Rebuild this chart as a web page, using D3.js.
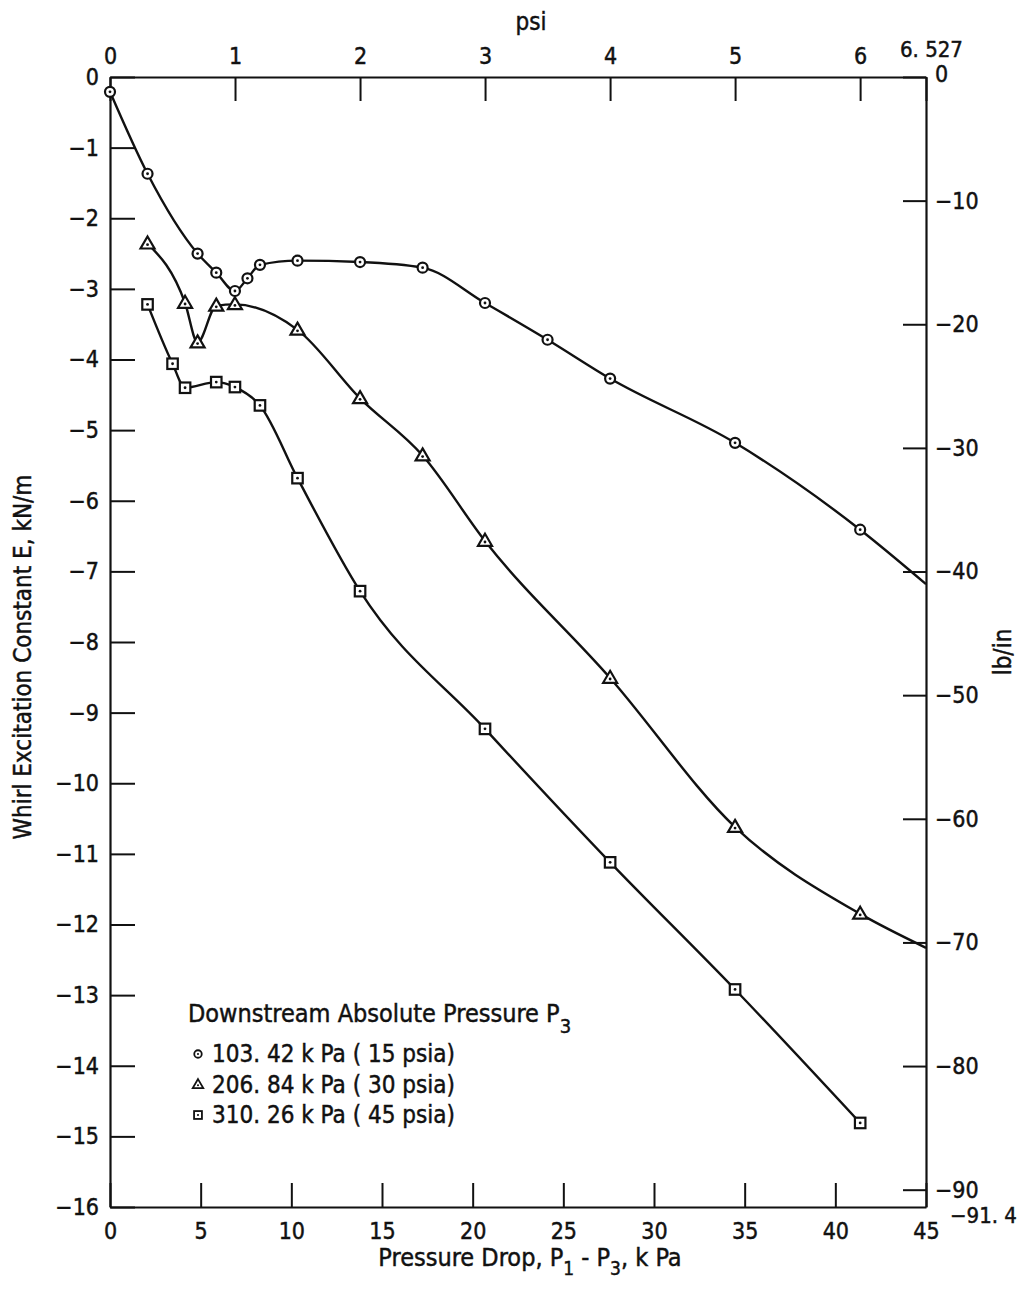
<!DOCTYPE html>
<html>
<head>
<meta charset="utf-8">
<script src="https://cdn.jsdelivr.net/npm/d3@7"></script>
<style>
  html, body { margin: 0; padding: 0; background: #fff; }
  svg { display: block; }
  text { font-family: "DejaVu Sans Condensed", "Liberation Sans Narrow", "DejaVu Sans", sans-serif; fill: #111; stroke: #111; stroke-width: 0.45px; }
</style>
</head>
<body>
<svg id="chart" width="1021" height="1291"></svg>
<script>
// Pressure drop P1 - P3 (kPa) and whirl excitation constant E (kN/m)
// Downstream absolute pressure 103.42 kPa (15 psia)
const drop15 = [0, 2.07, 4.83, 5.86, 6.89, 7.58, 8.27, 10.34, 13.79, 17.24, 20.68, 24.13, 27.58, 34.47, 41.37];
const e15    = [-0.21, -1.37, -2.50, -2.77, -3.03, -2.85, -2.66, -2.60, -2.62, -2.70, -3.20, -3.72, -4.27, -5.18, -6.41];
const tail15 = [45, -7.18];   // faired curve carried to the frame edge

// Downstream absolute pressure 206.84 kPa (30 psia)
const drop30 = [2.07, 4.14, 4.83, 5.86, 6.89, 10.34, 13.79, 17.24, 20.68, 27.58, 34.47, 41.37];
const e30    = [-2.36, -3.20, -3.76, -3.24, -3.22, -3.58, -4.55, -5.36, -6.57, -8.51, -10.62, -11.85];
const tail30 = [45, -12.33];

// Downstream absolute pressure 310.26 kPa (45 psia)
const drop45 = [2.07, 3.45, 4.14, 5.86, 6.89, 8.27, 10.34, 13.79, 20.68, 27.58, 34.47, 41.37];
const e45    = [-3.22, -4.06, -4.40, -4.32, -4.39, -4.65, -5.68, -7.28, -9.23, -11.12, -12.92, -14.81];

// Axis ticks and labels
const kPaTicks = [0, 5, 10, 15, 20, 25, 30, 35, 40, 45];
const psiTicks = [0, 1, 2, 3, 4, 5, 6, 6.527];
const psiTickLabels = ["0", "1", "2", "3", "4", "5", "6", "6. 527"];
const eTicks = [0, -1, -2, -3, -4, -5, -6, -7, -8, -9, -10, -11, -12, -13, -14, -15, -16];
const lbTicks = [0, -10, -20, -30, -40, -50, -60, -70, -80, -90];
const lbBottomLabel = "\u221291. 4";

const legendTitle = "Downstream Absolute Pressure P";
const legendLabels = ["103. 42 k Pa ( 15 psia)", "206. 84 k Pa ( 30 psia)", "310. 26 k Pa ( 45 psia)"];
const markerKinds = ["circle", "triangle", "square"];

const minus = v => (v < 0 ? "\u2212" + Math.abs(v) : String(v));

const svg = d3.select("#chart");
const L = 110, R = 926, T = 77, B = 1207;

const x = d3.scaleLinear().domain([0, 45]).range([L, R]);
const xPsi = d3.scaleLinear().domain([0, 6.527]).range([L, R]);
const y = d3.scaleLinear().domain([0, -16]).range([T, B]);
const yLb = d3.scaleLinear().domain([0, -91.4]).range([T, B]);

const FONT = '"DejaVu Sans Condensed", "Liberation Sans Narrow", "DejaVu Sans", sans-serif';

function styleAxis(g, size) {
  g.select(".domain").attr("stroke", "#111").attr("stroke-width", 2.2);
  g.selectAll(".tick line").attr("stroke", "#111").attr("stroke-width", 2);
  g.selectAll(".tick text").attr("font-size", size).attr("fill", "#111")
    .style("font-family", FONT);
}

// Left axis (kN/m), ticks pointing into the plot
const gLeft = svg.append("g").attr("transform", `translate(${L},0)`)
  .call(d3.axisLeft(y).tickValues(eTicks).tickSizeInner(-25).tickSizeOuter(0).tickPadding(11).tickFormat(minus));
styleAxis(gLeft, 23);

// Bottom axis (kPa)
const gBottom = svg.append("g").attr("transform", `translate(0,${B})`)
  .call(d3.axisBottom(x).tickValues(kPaTicks).tickSizeInner(-24).tickSizeOuter(0).tickPadding(16).tickFormat(d => String(d)));
styleAxis(gBottom, 23);

// Top axis (psi)
const gTop = svg.append("g").attr("transform", `translate(0,${T})`)
  .call(d3.axisTop(xPsi).tickValues(psiTicks).tickSizeInner(-24).tickSizeOuter(0).tickPadding(13)
    .tickFormat((d, i) => psiTickLabels[i]));
styleAxis(gTop, 23);
gTop.selectAll(".tick").filter(d => d === 6.527).select("text").attr("dx", 5).attr("dy", -7).attr("font-size", 22);

// Right axis (lb/in)
const gRight = svg.append("g").attr("transform", `translate(${R},0)`)
  .call(d3.axisRight(yLb).tickValues(lbTicks).tickSizeInner(-23).tickSizeOuter(0).tickPadding(9).tickFormat(minus));
styleAxis(gRight, 23);
gRight.selectAll(".tick").filter(d => d === 0).select("text").attr("dy", "0.2em");

svg.append("text").attr("x", R + 24).attr("y", yLb(-91.4) + 16)
  .attr("font-size", 22).text(lbBottomLabel);

// Axis titles
svg.append("text").attr("x", 531).attr("y", 30).attr("text-anchor", "middle")
  .attr("font-size", 24).text("psi");

const xt = svg.append("text").attr("x", 530).attr("y", 1266).attr("text-anchor", "middle").attr("font-size", 25);
xt.append("tspan").text("Pressure Drop,  P");
xt.append("tspan").attr("dy", 9).attr("font-size", 19).text("1");
xt.append("tspan").attr("dy", -9).text(" - P");
xt.append("tspan").attr("dy", 9).attr("font-size", 19).text("3");
xt.append("tspan").attr("dy", -9).text(",  k Pa");

svg.append("text").attr("transform", "translate(31,657) rotate(-90)").attr("text-anchor", "middle")
  .attr("font-size", 24).text("Whirl Excitation Constant E,  kN/m");

svg.append("text").attr("transform", "translate(1011,652) rotate(-90)").attr("text-anchor", "middle")
  .attr("font-size", 24).text("lb/in");

// Faired curves
const line = d3.line().x(d => x(d[0])).y(d => y(d[1])).curve(d3.curveMonotoneX);
const pts15 = drop15.map((d, i) => [d, e15[i]]);
const pts30 = drop30.map((d, i) => [d, e30[i]]);
const pts45 = drop45.map((d, i) => [d, e45[i]]);

const curves = [pts15.concat([tail15]), pts30.concat([tail30]), pts45];
svg.append("g").selectAll("path").data(curves).join("path")
  .attr("d", line).attr("fill", "none").attr("stroke", "#111").attr("stroke-width", 2.4);

// Data symbols
function drawMarker(g, kind, cx, cy, s) {
  if (kind === "circle") {
    g.append("circle").attr("cx", cx).attr("cy", cy).attr("r", 5 * s);
  } else if (kind === "triangle") {
    const h = 12 * s, w = 14 * s;
    g.append("path").attr("d", `M${cx},${cy - h * 0.6} L${cx + w / 2},${cy + h * 0.4} L${cx - w / 2},${cy + h * 0.4} Z`);
  } else {
    const a = 10.5 * s;
    g.append("rect").attr("x", cx - a / 2).attr("y", cy - a / 2).attr("width", a).attr("height", a);
  }
  g.append("circle").attr("class", "dot").attr("cx", cx).attr("cy", cy + (kind === "triangle" ? 1 * s : 0)).attr("r", 1.4 * s);
}

const markerLayer = svg.append("g").attr("fill", "#fff").attr("stroke", "#111").attr("stroke-width", 2.2);
[pts15, pts30, pts45].forEach((pts, k) => {
  pts.forEach(p => drawMarker(markerLayer, markerKinds[k], x(p[0]), y(p[1]), 1));
});
markerLayer.selectAll("circle.dot").attr("fill", "#111").attr("stroke", "none");

// Legend
const lg = svg.append("g");
const lt = lg.append("text").attr("x", 188).attr("y", 1022).attr("font-size", 25);
lt.append("tspan").text(legendTitle);
lt.append("tspan").attr("dy", 11).attr("font-size", 20).text("3");

const legendMarks = lg.append("g").attr("fill", "#fff").attr("stroke", "#111").attr("stroke-width", 1.8);
legendLabels.forEach((lab, i) => {
  const cy = 1054 + i * 30.5;
  drawMarker(legendMarks, markerKinds[i], 198, cy, 0.75);
  lg.append("text").attr("x", 212).attr("y", cy).attr("dy", "0.35em").attr("font-size", 24).text(lab);
});
legendMarks.selectAll("circle.dot").attr("fill", "#111").attr("stroke", "none");
</script>
</body>
</html>
